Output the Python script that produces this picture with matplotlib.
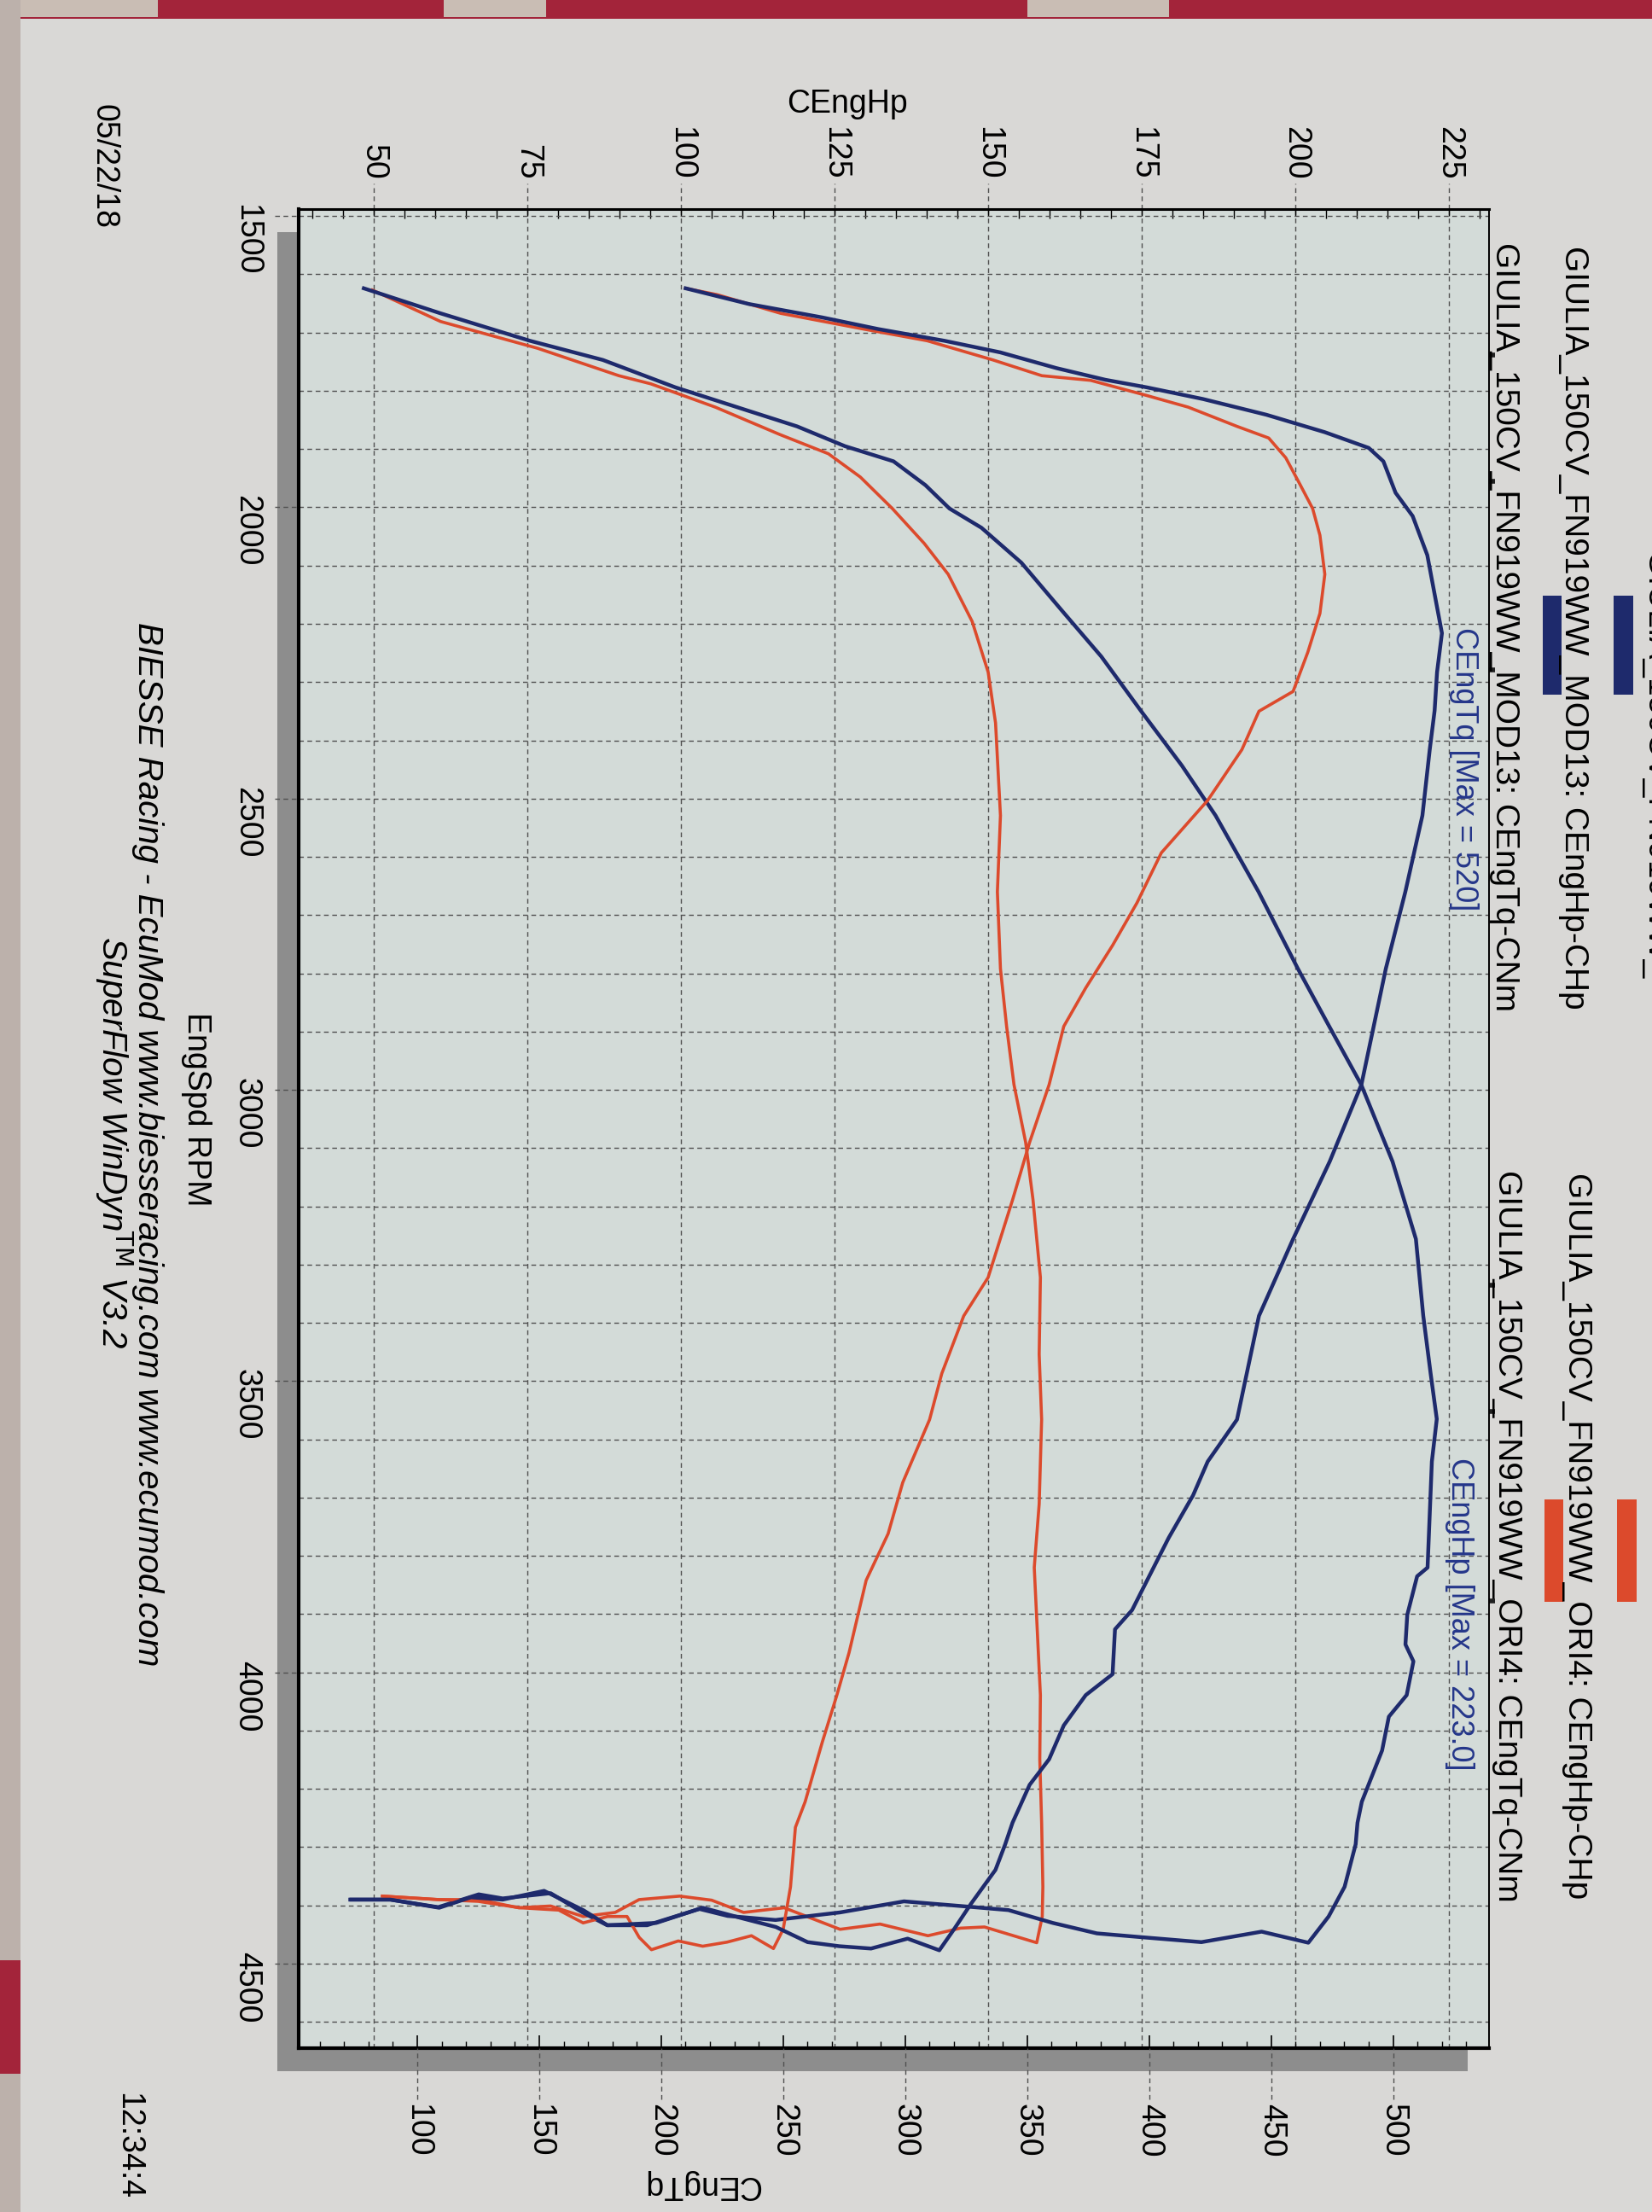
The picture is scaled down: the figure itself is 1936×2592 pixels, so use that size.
import numpy as np
import matplotlib
matplotlib.use("Agg")
import matplotlib.pyplot as plt
from matplotlib.patches import Rectangle

plt.rcParams['font.family'] = ['Liberation Sans', 'DejaVu Sans']

# ---------------- data ----------------
hp_ticks = [50, 75, 100, 125, 150, 175, 200, 225]
tq_ticks = [100, 150, 200, 250, 300, 350, 400, 450, 500]
rpm_ticks = [1500, 2000, 2500, 3000, 3500, 4000, 4500]
spine_marks_rpm = [1739, 1955, 2279, 3335, 3552, 3878]

mod_hp_rpm = [1624, 1667, 1714, 1747, 1794, 1834, 1861, 1895, 1921, 1962,
              2002, 2035, 2095, 2176, 2256, 2350, 2443, 2529, 2660, 2792,
              2891, 2991, 3123, 3256, 3388, 3487, 3565, 3638, 3820, 3835,
              3901, 3952, 3981, 4039, 4076, 4134, 4222, 4258, 4295, 4368,
              4419, 4464,
              4445, 4463, 4455, 4448, 4430, 4408, 4401, 4393, 4412, 4425,
              4418, 4406, 4434, 4434, 4412, 4379, 4388, 4381, 4403, 4390, 4390]
mod_hp = [48.4, 60.9, 75.4, 87.3, 99.1, 110.9, 118.9, 126.7, 134.6, 139.8,
          143.7, 148.9, 155.4, 161.9, 168.4, 174.9, 181.5, 187.0, 194.0, 200.4,
          205.5, 210.7, 215.8, 219.6, 220.8, 222.0, 223.0, 222.2, 221.5, 219.8,
          218.2, 217.9, 219.2, 218.1, 215.2, 214.1, 210.8, 210.1, 209.8, 208.0,
          205.4, 202.1,
          194.5, 184.7, 175.5, 167.7, 160.5, 153.3, 145.5, 136.3, 125.9, 115.4,
          107.6, 103.0, 94.5, 88.0, 84.0, 78.8, 71.0, 67.1, 60.5, 52.7, 46.2]

mod_tq_rpm = [1624, 1651, 1674, 1694, 1714, 1734, 1761, 1781, 1794, 1814,
              1841, 1871, 1898, 1921, 1975, 2015, 2082, 2149, 2216, 2283,
              2349, 2416, 2529, 2660, 2792, 2991, 3123, 3256, 3388, 3566,
              3638, 3696, 3769, 3835, 3893, 3926, 4003, 4039, 4091, 4149,
              4193, 4258, 4295, 4339, 4397, 4441, 4477,
              4457, 4474, 4470, 4463, 4437, 4423, 4404, 4430, 4434, 4408,
              4375, 4390, 4386, 4404, 4390, 4390]
mod_tq = [210, 236, 266, 289, 316, 339, 362, 382, 399, 422,
          448, 472, 490, 496, 501, 508, 514, 517, 520, 518,
          517, 515, 512, 505, 497, 487, 474, 459, 445, 436,
          424, 418, 408, 400, 393, 386, 385, 374, 365, 359,
          351, 344, 341, 337, 327, 320, 314,
          301, 286, 273, 260, 247, 234, 217, 198, 178, 168,
          152, 135, 122, 109, 89, 73]

ori_hp_rpm = [1627, 1681, 1727, 1774, 1788, 1828, 1875, 1908, 1948, 2002,
              2062, 2115, 2196, 2283, 2370, 2529, 2660, 2792, 2891, 2991,
              3090, 3189, 3322, 3454, 3566, 3711, 3820, 3930, 4039, 4149,
              4258, 4368, 4419, 4464,
              4437, 4439, 4452, 4432, 4441, 4404, 4412, 4391, 4384, 4390,
              4412, 4419, 4401, 4404, 4390, 4390, 4384]
ori_hp = [49.8, 60.9, 76.7, 89.9, 95.1, 105.6, 116.1, 124.0, 129.2, 134.4,
          139.6, 143.5, 147.4, 150.0, 151.2, 152.0, 151.5, 152.0, 153.0, 154.2,
          156.1, 157.3, 158.5, 158.3, 158.7, 158.3, 157.5, 158.0, 158.5, 158.4,
          158.7, 158.9, 158.8, 157.9,
          149.4, 145.5, 140.2, 132.4, 125.9, 116.8, 110.2, 105.0, 99.8, 93.2,
          89.3, 84.1, 78.8, 73.6, 67.1, 60.5, 51.4]

ori_tq_rpm = [1624, 1635, 1667, 1694, 1714, 1747, 1774, 1782, 1808, 1828,
              1861, 1881, 1915, 1962, 2002, 2048, 2115, 2182, 2249, 2316,
              2350, 2416, 2503, 2593, 2679, 2752, 2825, 2891, 2991, 3090,
              3189, 3322, 3388, 3487, 3566, 3674, 3762, 3842, 3966, 4039,
              4120, 4222, 4266, 4368, 4441, 4474,
              4452, 4463, 4470, 4461, 4476, 4455, 4419, 4419, 4430, 4408,
              4404, 4393, 4390, 4384]
ori_tq = [210, 223, 249, 283, 309, 336, 356, 376, 399, 416,
          436, 449, 456, 462, 467, 470, 472, 470, 465, 459,
          445, 438, 424, 405, 395, 385, 374, 365, 359, 351,
          344, 334, 324, 315, 310, 299, 293, 284, 277, 272,
          266, 259, 255, 253, 250, 246,
          237, 227, 217, 207, 196, 191, 186, 178, 168, 158,
          142, 125, 109, 86]

legend_labels = ["GIULIA_150CV_FN919WW_MOD13: CEngHp-CHp",
                 "GIULIA_150CV_FN919WW_MOD13: CEngTq-CNm",
                 "GIULIA_150CV_FN919WW_ORI4: CEngHp-CHp",
                 "GIULIA_150CV_FN919WW_ORI4: CEngTq-CNm"]

BLUE = '#1e2a6c'
RED = '#dc4a2c'
PAPER = '#d9d8d6'
PLOT_BG = '#d3dbd8'
GRID = '#505050'
FS = 27
LFS = 28

# ---------------- figure ----------------
W, H = 1936, 2592
fig = plt.figure(figsize=(W / 100, H / 100), dpi=100, facecolor=PAPER)


def fx(px):
    return px / W


def fy(py):
    return 1 - py / H


def frect(x0, y0, x1, y1, color, z=-1):
    fig.patches.append(Rectangle((fx(x0), fy(y1)), (x1 - x0) / W, (y1 - y0) / H,
                                 transform=fig.transFigure, facecolor=color,
                                 edgecolor='none', zorder=z))


# cloth around the paper
frect(0, 0, W, 22, '#a3243a')
for a, b in [(0, 185), (520, 640), (1204, 1370)]:
    frect(a, 0, b, 20, '#c9bdb4')
frect(0, 0, 24, H, '#bcb1ab')
frect(0, 2297, 24, 2430, '#a3243a')

# plot box (pixels in the photo)
L, R, T, B = 350, 1745, 245, 2400
# drop shadow (behind the axes)
frect(L - 25, T + 27, R - 25, B + 27, '#8d8d8d', z=-1)

ax = fig.add_axes([fx(L), fy(B), (R - L) / W, (B - T) / H])
ax.set_zorder(1)
ax.set_facecolor(PLOT_BG)
ax2 = ax.twiny()
ax2.set_zorder(2)
ax.xaxis.tick_top()
ax2.xaxis.tick_bottom()

ax.set_xlim(37.8, 231.5)
ax2.set_xlim(51.4, 539.3)
ax.set_ylim(4645, 1488)

ax.set_xticks(hp_ticks)
ax.set_xticks(np.arange(40, 231, 5), minor=True)
ax.set_yticks(rpm_ticks)
ax.set_yticks(np.arange(1500, 4601, 100), minor=True)
ax2.set_xticks(tq_ticks)
ax2.set_xticks(np.arange(60, 540, 10), minor=True)

ax.grid(True, which='major', axis='x', color=GRID, linestyle=(0, (4, 3)), linewidth=1.0)
ax.grid(True, which='both', axis='y', color=GRID, linestyle=(0, (4, 3)), linewidth=1.0)
ax.set_axisbelow(True)

ax.tick_params(axis='x', which='major', direction='in', length=6, width=1.0,
               pad=25, labelsize=FS, labelrotation=-90, top=True, bottom=False)
ax.tick_params(axis='x', which='minor', direction='in', length=8, width=1.0,
               top=True, bottom=False)
ax.tick_params(axis='y', which='major', length=0, pad=31, labelsize=FS,
               labelrotation=-90)
ax.tick_params(axis='y', which='minor', length=0)
ax2.tick_params(axis='x', which='major', direction='in', length=11, width=1.2,
                pad=47, labelsize=FS, labelrotation=-90)
ax2.tick_params(axis='x', which='minor', direction='in', length=6, width=1.0)

for s in ax2.spines.values():
    s.set_visible(False)
ax.spines['left'].set_linewidth(3.0)
ax.spines['bottom'].set_linewidth(3.0)
ax.spines['top'].set_linewidth(2.2)
ax.spines['right'].set_linewidth(1.4)

# dashed tick extensions outside the frame
ax.vlines(hp_ticks, 1.0, 1.0 + 30 / (B - T), transform=ax.get_xaxis_transform(),
          clip_on=False, colors=GRID, linestyles=(0, (4, 3)), linewidth=1.0)
ax.hlines(rpm_ticks, -28 / (R - L), 0, transform=ax.get_yaxis_transform(),
          clip_on=False, colors=GRID, linestyles=(0, (4, 3)), linewidth=1.0)
ax2.vlines(tq_ticks, -60 / (B - T), 0, transform=ax2.get_xaxis_transform(),
           clip_on=False, colors=GRID, linestyles=(0, (4, 3)), linewidth=1.0)
# small marks on the right frame edge
ax.hlines(spine_marks_rpm, 1.0, 1.0 + 7 / (R - L), transform=ax.get_yaxis_transform(),
          clip_on=False, colors='#202020', linewidth=4)

# curves
ax.plot(ori_hp, ori_hp_rpm, color=RED, lw=2.6, solid_joinstyle='round', zorder=3)
ax.plot(mod_hp, mod_hp_rpm, color=BLUE, lw=3.2, solid_joinstyle='round', zorder=3)
ax2.plot(ori_tq, ori_tq_rpm, color=RED, lw=2.6, solid_joinstyle='round', zorder=3)
ax2.plot(mod_tq, mod_tq_rpm, color=BLUE, lw=3.2, solid_joinstyle='round', zorder=3)

ax2.text(523, 2450, "CEngTq [Max = 520]", rotation=-90, color='#24368a',
         ha='left', va='center', fontsize=FS - 1)
ax.text(224.3, 3900, "CEngHp [Max = 223.0]", rotation=-90, color='#24368a',
        ha='left', va='center', fontsize=FS - 1)

# legend (rotated like the rest of the page)
fig.text(fx(1763), fy(735), legend_labels[1], rotation=-90, ha='center', va='center', fontsize=LFS, zorder=5)
fig.text(fx(1844), fy(735), legend_labels[0], rotation=-90, ha='center', va='center', fontsize=LFS, zorder=5)
fig.text(fx(1766), fy(1800), legend_labels[3], rotation=-90, ha='center', va='center', fontsize=LFS, zorder=5)
fig.text(fx(1848), fy(1800), legend_labels[2], rotation=-90, ha='center', va='center', fontsize=LFS, zorder=5)
frect(1808, 698, 1830, 814, BLUE, z=5)
frect(1891, 698, 1914, 814, BLUE, z=5)
frect(1810, 1757, 1832, 1877, RED, z=5)
frect(1895, 1757, 1918, 1877, RED, z=5)
fig.text(fx(1940), fy(646), "GIULIA_150CV_FN919WW_", rotation=-90, ha='center', va='top', fontsize=LFS)

# axis titles and footer texts
fig.text(fx(993), fy(122), "CEngHp", ha='center', va='center', fontsize=FS)
fig.text(fx(822), fy(2560), "CEngTq", rotation=180, ha='center', va='center', fontsize=FS)
fig.text(fx(230), fy(1300), "EngSpd RPM", rotation=-90, ha='center', va='center', fontsize=FS)
fig.text(fx(173), fy(1341), "BIESSE Racing - EcuMod www.biesseracing.com www.ecumod.com",
         rotation=-90, ha='center', va='center', fontsize=FS + 2, style='italic')
fig.text(fx(133), fy(1338), "SuperFlow WinDyn$^{\\mathrm{TM}}$ V3.2",
         rotation=-90, ha='center', va='center', fontsize=FS + 2, style='italic')
fig.text(fx(121), fy(195), "05/22/18", rotation=-90, ha='center', va='center', fontsize=FS)
fig.text(fx(150), fy(2452), "12:34:4", rotation=-90, ha='center', va='top', fontsize=FS)

fig.savefig("out.png", dpi=100, facecolor=PAPER)
